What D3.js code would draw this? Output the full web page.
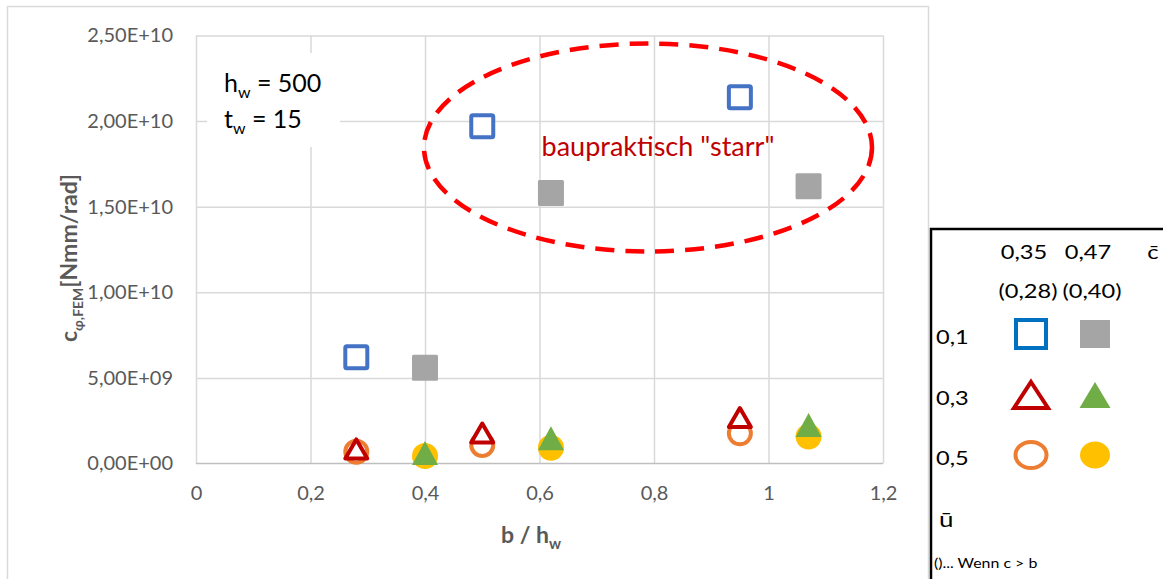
<!DOCTYPE html>
<html>
<head>
<meta charset="utf-8">
<script src="https://cdn.jsdelivr.net/npm/d3@7"></script>
<style>
  body { margin: 0; background: #fff; }
  svg { display: block; font-family: Lato, "Open Sans", sans-serif; }
</style>
</head>
<body>
<svg id="chart"></svg>
<script>
// data
const xTicks = [0, 0.2, 0.4, 0.6, 0.8, 1, 1.2]
const xTickLabels = ['0', '0,2', '0,4', '0,6', '0,8', '1', '1,2']
const yTicks = [0, 5e9, 1e10, 1.5e10, 2e10, 2.5e10]
const yTickLabels = ['0,00E+00', '5,00E+09', '1,00E+10', '1,50E+10', '2,00E+10', '2,50E+10']

// c = 0.35 (0.28) series at b/hw
const xC35 = [0.28, 0.5, 0.95]
// c = 0.47 (0.40) series at b/hw
const xC47 = [0.4, 0.62, 1.07]

const u01c35 = [6.2e9, 1.97e10, 2.14e10]
const u01c47 = [5.6e9, 1.58e10, 1.62e10]
const u03c35 = [0.85e9, 1.78e9, 2.68e9]
const u03c47 = [0.61e9, 1.47e9, 2.25e9]
const u05c35 = [0.69e9, 1.08e9, 1.76e9]
const u05c47 = [0.44e9, 0.92e9, 1.57e9]

const legendCols = ['0,35', '0,47']
const legendColsAlt = ['(0,28)', '(0,40)']
const legendRows = ['0,1', '0,3', '0,5']

const W = 1163, H = 579
const svg = d3.select('#chart').attr('width', W).attr('height', H)

// chart frame
svg.append('rect').attr('x', 7.5).attr('y', 6.5).attr('width', 921).attr('height', 600)
  .attr('fill', '#fff').attr('stroke', '#d9d9d9').attr('stroke-width', 1.5)

const xScale = d3.scaleLinear().domain([0, 1.2]).range([196, 883])
const yScale = d3.scaleLinear().domain([0, 2.5e10]).range([463.5, 35.5])

// gridlines
svg.append('g')
  .attr('transform', `translate(0, ${yScale(0)})`)
  .call(d3.axisBottom(xScale).tickValues(xTicks).tickSize(-(yScale(0) - yScale(2.5e10))).tickFormat(''))
  .call(g => g.select('.domain').remove())
  .call(g => g.selectAll('line').attr('stroke', '#d9d9d9').attr('stroke-width', 1.5))
svg.append('g')
  .attr('transform', `translate(${xScale(0)}, 0)`)
  .call(d3.axisLeft(yScale).tickValues(yTicks.slice(1)).tickSize(-(xScale(1.2) - xScale(0))).tickFormat(''))
  .call(g => g.select('.domain').remove())
  .call(g => g.selectAll('line').attr('stroke', '#d9d9d9').attr('stroke-width', 1.5))

// x axis line + labels
svg.append('line').attr('x1', xScale(0)).attr('x2', xScale(1.2))
  .attr('y1', yScale(0)).attr('y2', yScale(0)).attr('stroke', '#bfbfbf').attr('stroke-width', 1.5)

const xAxis = svg.append('g')
  .attr('transform', `translate(0, ${yScale(0)})`)
  .call(d3.axisBottom(xScale).tickValues(xTicks).tickSize(0).tickPadding(22)
    .tickFormat((d, i) => xTickLabels[i]))
xAxis.select('.domain').remove()
xAxis.selectAll('text').attr('font-size', 20).attr('fill', '#595959').attr('font-family', 'Lato')

const yAxis = svg.append('g')
  .attr('transform', `translate(${xScale(0)}, 0)`)
  .call(d3.axisLeft(yScale).tickValues(yTicks).tickSize(0).tickPadding(23)
    .tickFormat((d, i) => yTickLabels[i]))
yAxis.select('.domain').remove()
yAxis.selectAll('text').attr('font-size', 20).attr('fill', '#595959').attr('font-family', 'Lato')

// axis titles
const yt = svg.append('text').attr('transform', 'translate(77, 258) rotate(-90)')
  .attr('text-anchor', 'middle').attr('font-size', 23).attr('font-weight', 'bold').attr('fill', '#595959')
yt.append('tspan').text('c')
yt.append('tspan').attr('font-size', 14).attr('dy', 6).text('φ,FEM')
yt.append('tspan').attr('dy', -6).text('[Nmm/rad]')

const xt = svg.append('text').attr('x', 531).attr('y', 543)
  .attr('text-anchor', 'middle').attr('font-size', 23).attr('font-weight', 'bold').attr('fill', '#595959')
xt.append('tspan').text('b / h')
xt.append('tspan').attr('font-size', 15).attr('dy', 6).text('w')

// hw / tw box
svg.append('rect').attr('x', 207).attr('y', 53).attr('width', 133).attr('height', 94).attr('fill', '#fff')
const t1 = svg.append('text').attr('x', 224).attr('y', 92).attr('font-size', 25).attr('fill', '#000')
t1.append('tspan').text('h')
t1.append('tspan').attr('font-size', 16).attr('dy', 6).text('w')
t1.append('tspan').attr('dy', -6).text(' = 500')
const t2 = svg.append('text').attr('x', 224).attr('y', 128).attr('font-size', 25).attr('fill', '#000')
t2.append('tspan').text('t')
t2.append('tspan').attr('font-size', 16).attr('dy', 6).text('w')
t2.append('tspan').attr('dy', -6).text(' = 15')

// ellipse annotation
svg.append('ellipse').attr('cx', 648).attr('cy', 147.5).attr('rx', 224).attr('ry', 104)
  .attr('fill', 'none').attr('stroke', '#ff0000').attr('stroke-width', 4.5)
  .attr('stroke-dasharray', '19 11')
svg.append('text').attr('x', 658).attr('y', 156).attr('text-anchor', 'middle')
  .attr('font-size', 27).attr('fill', '#c00000').text('baupraktisch "starr"')

// marker helpers
const triPath = (w, h) => `M0,${-h / 2}L${w / 2},${h / 2}L${-w / 2},${h / 2}Z`

function drawSquares (xs, ys, style) {
  svg.append('g').selectAll('rect').data(xs).join('rect')
    .attr('x', d => xScale(d) - style.s / 2)
    .attr('y', (d, i) => yScale(ys[i]) - style.s / 2)
    .attr('width', style.s).attr('height', style.s).attr('rx', 1.5)
    .attr('fill', style.fill).attr('stroke', style.stroke).attr('stroke-width', style.sw)
}
function drawTris (xs, ys, style) {
  svg.append('g').selectAll('path').data(xs).join('path')
    .attr('transform', (d, i) => `translate(${xScale(d)}, ${yScale(ys[i])})`)
    .attr('d', triPath(style.w, style.h))
    .attr('fill', style.fill).attr('stroke', style.stroke).attr('stroke-width', style.sw)
    .attr('stroke-linejoin', 'round')
}
function drawCircles (xs, ys, style) {
  svg.append('g').selectAll('circle').data(xs).join('circle')
    .attr('cx', d => xScale(d)).attr('cy', (d, i) => yScale(ys[i])).attr('r', style.r)
    .attr('fill', style.fill).attr('stroke', style.stroke).attr('stroke-width', style.sw)
}

drawSquares(xC35, u01c35, { s: 22, fill: '#fff', stroke: '#4472c4', sw: 4 })
drawSquares(xC47, u01c47, { s: 26, fill: '#a5a5a5', stroke: 'none', sw: 0 })
drawCircles(xC35, u05c35, { r: 11, fill: '#fff', stroke: '#ed7d31', sw: 4 })
drawCircles(xC47, u05c47, { r: 13, fill: '#ffc000', stroke: 'none', sw: 0 })
drawTris(xC35, u03c35, { w: 22, h: 19, fill: '#fff', stroke: '#c00000', sw: 4 })
drawTris(xC47, u03c47, { w: 26, h: 24, fill: '#70ad47', stroke: 'none', sw: 0 })

// legend box (separate picture on the right, slightly stretched text)
const lg = svg.append('g')
lg.append('rect').attr('x', 931).attr('y', 229).attr('width', 260).attr('height', 400)
  .attr('fill', '#fff').attr('stroke', '#000').attr('stroke-width', 2.5)

function lText (x, y, t, size, anchor) {
  lg.append('text').attr('transform', `translate(${x}, ${y}) scale(1.18, 1)`)
    .attr('text-anchor', anchor || 'start').attr('font-size', size).attr('fill', '#000').text(t)
}

const colX = [1031, 1095]
const rowY = [334, 395, 455]
legendCols.forEach((t, i) => lText(colX[i] - 7, 259, t, 20, 'middle'))
legendColsAlt.forEach((t, i) => lText(colX[i] - 3, 298, t, 20, 'middle'))
lText(1153, 259, 'c̄', 20, 'middle')
legendRows.forEach((t, i) => lText(936, rowY[i] + 10, t, 20))
lText(939, 527, 'ū', 22)
lText(934, 568, '()... Wenn c > b', 13.5)

lg.append('rect').attr('x', colX[0] - 15).attr('y', rowY[0] - 14).attr('width', 30).attr('height', 28)
  .attr('fill', '#fff').attr('stroke', '#0070c0').attr('stroke-width', 4)
lg.append('rect').attr('x', colX[1] - 15).attr('y', rowY[0] - 14).attr('width', 30).attr('height', 28)
  .attr('fill', '#a5a5a5')
lg.append('path').attr('transform', `translate(${colX[0]}, ${rowY[1]})`).attr('d', triPath(34, 26))
  .attr('fill', '#fff').attr('stroke', '#c00000').attr('stroke-width', 4)
lg.append('path').attr('transform', `translate(${colX[1]}, ${rowY[1]})`).attr('d', triPath(31, 26))
  .attr('fill', '#70ad47')
lg.append('ellipse').attr('cx', colX[0]).attr('cy', rowY[2]).attr('rx', 15.5).attr('ry', 13)
  .attr('fill', '#fff').attr('stroke', '#ed7d31').attr('stroke-width', 4)
lg.append('ellipse').attr('cx', colX[1]).attr('cy', rowY[2]).attr('rx', 15).attr('ry', 13.5)
  .attr('fill', '#ffc000')
</script>
</body>
</html>
